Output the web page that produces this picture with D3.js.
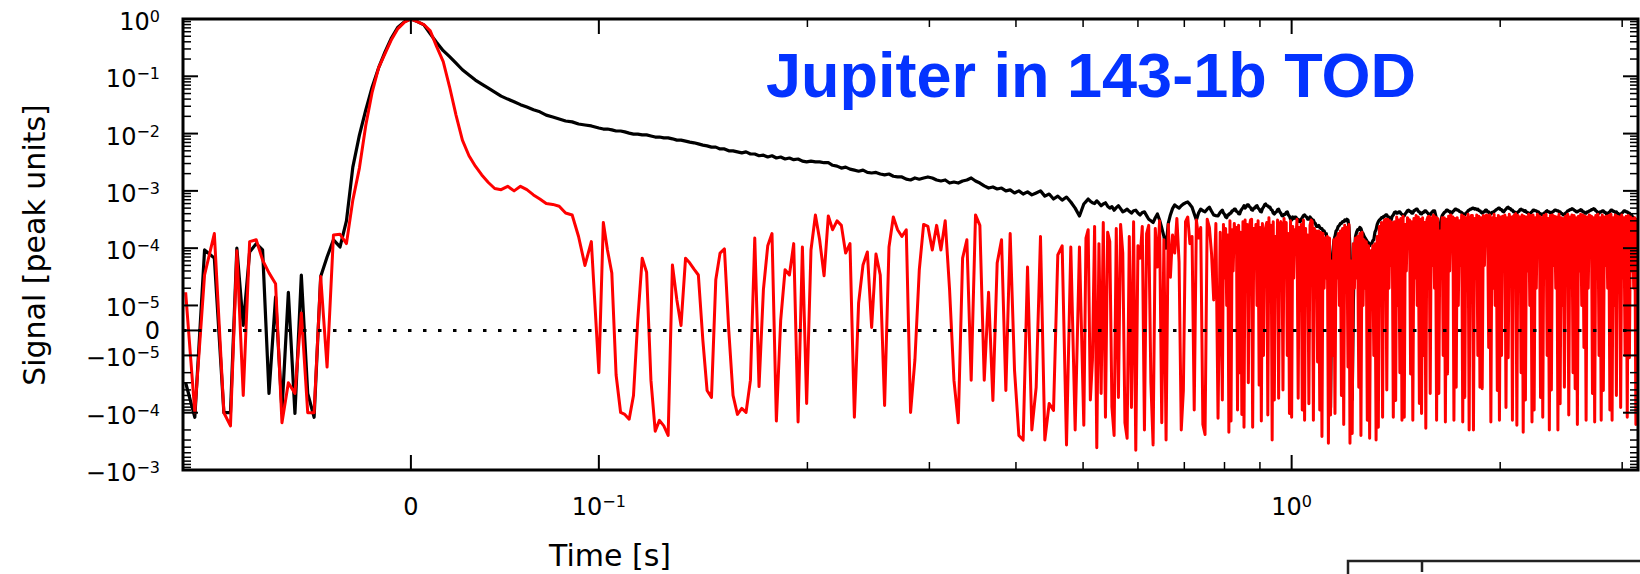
<!doctype html>
<html lang="en">
<head>
<meta charset="UTF-8">
<title>Jupiter in 143-1b TOD</title>
<style>
  html, body { margin: 0; padding: 0; background: #fff; }
  svg { display: block; }
  .tick-label { font-family: 'DejaVu Sans', sans-serif; font-size: 24px; fill: #000; }
  .axis-title { font-family: 'DejaVu Sans', sans-serif; font-size: 30px; fill: #000; }
  .title { font-family: 'Liberation Sans', Arial, sans-serif; font-weight: bold; font-size: 63px; fill: #0433ff; }
</style>
</head>
<body>
<svg width="1640" height="574"></svg>
<script src="https://cdn.jsdelivr.net/npm/d3@7"></script>
<script>
// sample times [ms]: uniform around the peak, log-spaced bins after 0.1 s (finer bins at late times)
const timeMs = [
  -113.2, -109.8, -106.3, -102.9, -99.5, -96.0, -92.6, -89.2, -85.8, -82.3,
  -78.9, -75.5, -72.0, -68.6, -65.2, -61.7, -58.3, -54.9, -51.5, -48.0,
  -44.6, -41.2, -37.7, -34.3, -30.9, -27.4, -24.0, -20.6, -17.2, -13.7,
  -10.3, -6.9, -3.4, 0, 3.4, 6.9, 10.3, 13.7, 17.2, 20.6,
  24.0, 27.4, 30.9, 34.3, 37.7, 41.2, 44.6, 48.0, 51.5, 54.9,
  58.3, 61.7, 65.2, 68.6, 72.0, 75.5, 78.9, 82.3, 85.8, 89.2,
  92.6, 96.0,
  100, 101.5, 102.9, 104.4, 105.9, 107.5, 109.0, 110.6, 112.2, 113.8, 115.5, 117.2, 118.9, 120.6, 122.3, 124.1,
  125.9, 127.7, 129.6, 131.4, 133.4, 135.3, 137.2, 139.2, 141.3, 143.3, 145.4, 147.5, 149.6, 151.8, 154.0, 156.2,
  158.5, 160.8, 163.1, 165.5, 167.9, 170.3, 172.8, 175.3, 177.8, 180.4, 183.0, 185.7, 188.4, 191.1, 193.9, 196.7,
  199.5, 202.4, 205.4, 208.3, 211.4, 214.4, 217.5, 220.7, 223.9, 227.1, 230.4, 233.8, 237.1, 240.6, 244.1, 247.6,
  251.2, 254.8, 258.5, 262.3, 266.1, 269.9, 273.8, 277.8, 281.8, 285.9, 290.1, 294.3, 298.5, 302.9, 307.3, 311.7,
  316.2, 320.8, 325.5, 330.2, 335.0, 339.8, 344.7, 349.7, 354.8, 360.0, 365.2, 370.5, 375.8, 381.3, 386.8, 392.4,
  398.1, 403.9, 409.7, 415.7, 421.7, 427.8, 434.0, 440.3, 446.7, 453.2, 459.7, 466.4, 473.2, 480.0, 487.0, 494.0,
  501.2, 504.8, 508.5, 512.2, 515.8, 519.5, 523.3, 527.1, 530.9, 534.7, 538.6, 542.5, 546.4, 550.3, 554.3, 558.3,
  562.3, 566.4, 570.5, 574.6, 578.8, 583.0, 587.2, 591.4, 595.7, 600.0, 604.3, 608.7, 613.1, 617.5, 621.9, 626.4,
  631.0, 635.6, 640.1, 644.7, 649.4, 654.1, 658.8, 663.6, 668.3, 673.1, 678.0, 682.9, 687.9, 692.9, 697.8, 702.8,
  708.0, 713.1, 718.2, 723.4, 728.6, 733.9, 739.2, 744.5, 749.9, 755.3, 760.8, 766.3, 771.8, 777.4, 783.0, 788.7,
  794.3, 797.2, 800.0, 803.0, 805.9, 808.8, 811.7, 814.6, 817.5, 820.5, 823.4, 826.4, 829.4, 832.4, 835.4, 838.4,
  841.4, 844.5, 847.5, 850.6, 853.6, 856.7, 859.8, 862.9, 866.0, 869.2, 872.3, 875.4, 878.5, 881.7, 884.8, 888.1,
  891.3, 894.5, 897.7, 901.0, 904.2, 907.5, 910.7, 914.0, 917.3, 920.6, 923.9, 927.3, 930.6, 934.0, 937.3, 940.7,
  944.1, 947.5, 950.9, 954.3, 957.7, 961.2, 964.6, 968.1, 971.6, 975.1, 978.6, 982.2, 985.7, 989.3, 992.8, 996.4,
  1000, 1003.5, 1007, 1010.5, 1014, 1018, 1022, 1025.5, 1029, 1032.5, 1036, 1040, 1044, 1047.5, 1051, 1055,
  1059, 1063, 1067, 1071, 1075, 1078.5, 1082, 1086, 1090, 1094, 1098, 1102, 1106, 1110, 1114, 1118,
  1122, 1126, 1130, 1134, 1138, 1142, 1146, 1150.5, 1155, 1159, 1163, 1167.5, 1172, 1176, 1180, 1184.5,
  1189, 1193, 1197, 1201.5, 1206, 1210, 1214, 1218.5, 1223, 1227.5, 1232, 1236.5, 1241, 1245.5, 1250, 1254.5,
  1259, 1263.5, 1268, 1272.5, 1277, 1281.5, 1286, 1291, 1296, 1300.5, 1305, 1309.5, 1314, 1319, 1324, 1329,
  1334, 1338.5, 1343, 1348, 1353, 1357.5, 1362, 1367, 1372, 1377, 1382, 1387, 1392, 1397, 1402, 1407.5,
  1413, 1418, 1423, 1428, 1433, 1438, 1443, 1448.5, 1454, 1459, 1464, 1469.5, 1475, 1480, 1485, 1490.5,
  1496, 1501.5, 1507, 1512.5, 1518, 1523.5, 1529, 1534.5, 1540, 1545.5, 1551, 1556.5, 1562, 1567.5, 1573, 1579,
  1585, 1590.5, 1596, 1602, 1608, 1613.5, 1619, 1625, 1631, 1637, 1643, 1649, 1655, 1661, 1667, 1673,
  1679, 1685, 1691, 1697, 1703, 1709, 1715, 1721.5, 1728, 1734, 1740, 1746.5, 1753, 1759.5, 1766, 1772,
  1778, 1784.5, 1791, 1797.5, 1804, 1810.5, 1817, 1823.5, 1830, 1836.5, 1843, 1850, 1857, 1863.5, 1870, 1877,
  1884, 1891, 1898, 1904.5, 1911, 1918, 1925, 1932, 1939, 1946, 1953, 1960, 1967, 1974, 1981, 1988,
  1995, 2002, 2009, 2016.5, 2024, 2031.5, 2039, 2046.5, 2054, 2061.5, 2069, 2076, 2083, 2090.5, 2098, 2106,
  2114, 2121.5, 2129, 2136.5, 2144, 2151.5, 2159, 2167, 2175, 2183, 2191, 2199, 2207, 2215, 2223, 2231,
  2239, 2247, 2255, 2263, 2271, 2279, 2287, 2295.5, 2304, 2312.5, 2321, 2329.5, 2338, 2346.5, 2355, 2363,
  2371, 2379.5, 2388, 2397, 2406, 2414.5, 2423, 2432, 2441, 2450, 2459, 2467.5, 2476, 2485, 2494, 2503,
  2512, 2521, 2530, 2539, 2548, 2557, 2566, 2575.5, 2585, 2594.5, 2604, 2613.5, 2623, 2632.5, 2642, 2651.5,
  2661, 2670.5, 2680, 2689.5, 2699, 2708.5, 2718, 2728, 2738, 2748, 2758, 2768, 2778, 2788, 2798, 2808,
  2818, 2828, 2838, 2848.5, 2859, 2869.5, 2880, 2890.5, 2901, 2911.5, 2922, 2932.5, 2943, 2953.5, 2964, 2974.5,
  2985, 2996, 3007, 3018, 3029, 3040, 3051, 3062, 3073, 3084, 3095, 3106, 3117, 3128.5, 3140, 3151,
  3162
];

// black: raw TOD [peak units]
const rawSignal = [
  -3e-5, -1.2e-4, 9.3e-5, 6.7e-5, -1e-4, -1e-4, 1e-4, 2e-6, 8.6e-5, 1.2e-4,
  9.3e-5, -4.6e-5, 1.4e-5, -9.1e-5, 1.7e-5, -1.03e-4, 3.4e-5, -4.6e-5, -1.2e-4, 3.2e-5,
  7e-5, 1.4e-4, 1.05e-4, 3e-4, 2.6e-3, 9.4e-3, 2.6e-2, 6.5e-2, 0.14, 0.27,
  0.47, 0.72, 0.9, 1, 0.9, 0.79, 0.55, 0.39, 0.28, 0.22,
  0.17, 0.13, 0.105, 0.086, 0.073, 0.062, 0.053, 0.045, 0.04, 0.036,
  0.032, 0.029, 0.026, 0.024, 0.021, 0.0195, 0.018, 0.0166, 0.016, 0.0147,
  0.0141, 0.0136,
  1.25e-2, 1.2e-2, 1.2e-2, 1.16e-2, 1.11e-2, 1.11e-2, 1.07e-2, 1.02e-2, 9.8e-3, 9.8e-3,
  9.5e-3, 9.5e-3, 9.1e-3, 8.7e-3, 8.7e-3, 8.4e-3, 8.4e-3, 8.1e-3, 7.7e-3, 7.7e-3,
  7.4e-3, 7.1e-3, 6.9e-3, 6.6e-3, 6.3e-3, 6.1e-3, 5.8e-3, 5.8e-3, 5.4e-3, 5.4e-3,
  5e-3, 5e-3, 4.8e-3, 4.6e-3, 4.8e-3, 4.4e-3, 4.4e-3, 4.1e-3, 4.2e-3, 3.9e-3,
  4.1e-3, 3.75e-3, 3.9e-3, 3.6e-3, 3.75e-3, 3.5e-3, 3.6e-3, 3.3e-3, 3.2e-3, 3.3e-3,
  3.2e-3, 3.2e-3, 3.1e-3, 3.1e-3, 2.8e-3, 2.7e-3, 2.5e-3, 2.6e-3, 2.4e-3, 2.3e-3,
  2.2e-3, 2.3e-3, 2.1e-3, 2.05e-3, 2.1e-3, 1.97e-3, 1.9e-3, 1.97e-3, 1.8e-3, 1.75e-3,
  1.75e-3, 1.6e-3, 1.55e-3, 1.68e-3, 1.6e-3, 1.68e-3, 1.75e-3, 1.68e-3, 1.55e-3, 1.49e-3,
  1.55e-3, 1.37e-3, 1.43e-3, 1.37e-3, 1.49e-3, 1.55e-3, 1.68e-3, 1.49e-3, 1.37e-3, 1.22e-3,
  1.12e-3, 1.17e-3, 1.08e-3, 1.12e-3, 1e-3, 1.04e-3, 9.2e-4, 1e-3, 8.8e-4, 9.6e-4,
  8.5e-4, 9.2e-4, 1e-3, 8.1e-4, 8.8e-4, 7.2e-4, 8.1e-4, 6.9e-4, 7.8e-4, 6.4e-4,
  5e-4, 3.65e-4,
  5.9e-4, 6.5e-4, 7.2e-4, 6.6e-4, 6.2e-4, 6e-4, 6.7e-4, 6.1e-4, 5.5e-4, 5.9e-4,
  6.2e-4, 5.4e-4, 5e-4, 5.3e-4, 4.6e-4, 5.1e-4, 5.5e-4, 4.9e-4, 4.3e-4, 4.5e-4,
  4.8e-4, 4.4e-4, 4.1e-4, 4.5e-4, 4.6e-4, 4.1e-4, 3.8e-4, 4.2e-4, 4.3e-4, 3.7e-4,
  3.2e-4, 3e-4, 2.8e-4, 3.4e-4, 3.95e-4, 3.1e-4, 2.25e-4, 1.6e-4, 1e-4, 2.7e-4,
  3.8e-4, 4.9e-4, 5.7e-4, 5.3e-4, 5e-4, 5.5e-4, 5.9e-4, 6.2e-4, 6.4e-4, 5.8e-4,
  5.2e-4, 4e-4, 3.1e-4, 4.1e-4, 4.8e-4, 4.5e-4, 4.3e-4, 4.8e-4, 5.2e-4, 4.4e-4,
  3.8e-4, 3.7e-4, 3.65e-4, 4.2e-4,
  4.6e-4, 4.1e-4, 3.9e-4, 3.5e-4, 3.4e-4, 3.8e-4, 3.8e-4, 4.1e-4,
  4.1e-4, 4.5e-4, 4.5e-4, 4.8e-4, 4.8e-4, 4.4e-4, 4.3e-4, 4e-4,
  3.95e-4, 4.5e-4, 4.8e-4, 5.1e-4, 5.5e-4, 5e-4, 5.3e-4, 5.7e-4,
  5.7e-4, 5.3e-4, 5.1e-4, 4.7e-4, 4.6e-4, 5e-4, 5e-4, 5.4e-4,
  5.5e-4, 5e-4, 4.8e-4, 4.4e-4, 4.3e-4, 4.9e-4, 5.2e-4, 5.7e-4,
  5.9e-4, 5.5e-4, 5.5e-4, 5.2e-4, 5.2e-4, 4.7e-4, 4.6e-4, 4.1e-4,
  3.95e-4, 4.2e-4, 4.3e-4, 4.7e-4, 4.8e-4, 4.3e-4, 4.1e-4, 3.7e-4,
  3.65e-4, 3.9e-4, 3.9e-4, 4.2e-4, 4.3e-4, 3.8e-4, 3.6e-4, 3.2e-4,
  3.1e-4, 3.5e-4, 3.3e-4, 3.5e-4, 3.5e-4, 3.2e-4, 3.2e-4, 2.9e-4,
  2.9e-4, 3.2e-4, 3.4e-4, 3.7e-4, 3.8e-4, 3.6e-4, 3.5e-4, 3.2e-4,
  3.2e-4, 3.5e-4, 3.3e-4, 3.1e-4, 3.1e-4, 2.8e-4, 2.7e-4, 2.4e-4,
  2.4e-4, 2.5e-4, 2.3e-4, 2.2e-4, 2.2e-4, 2e-4, 2e-4, 1.8e-4,
  1.8e-4, 1.3e-4, 5e-5, -3e-5, -8.1e-5, 1e-5, 8e-5, 1.3e-4,
  1.6e-4, 2e-4, 2.1e-4, 2.4e-4, 2.5e-4, 2.7e-4, 2.7e-4, 2.9e-4,
  2.9e-4, 3.1e-4, 3e-4, 3.2e-4, 3.1e-4, 2.3e-4, 1e-4, 2e-5,
  -5.9e-5, 1e-5, 9e-5, 1.6e-4, 1.9e-4, 2.1e-4, 2.1e-4, 2.3e-4,
  2.2e-4, 1.9e-4, 1.8e-4, 1.6e-4, 1.5e-4, 1.4e-4, 1.3e-4, 1.25e-4,
  1.1e-4, 1.2e-4, 1.2e-4, 1.35e-4, 1.4e-4, 1.9e-4, 2.1e-4, 2.6e-4,
  2.9e-4, 3.1e-4, 3.2e-4, 3.4e-4, 3.4e-4, 3.6e-4, 3.6e-4, 3.8e-4,
  3.8e-4, 3.5e-4, 3.5e-4, 3.2e-4, 3.1e-4, 3.6e-4, 3.8e-4, 4.2e-4,
  4.3e-4, 4.1e-4, 4.1e-4, 4.3e-4, 4.3e-4, 4e-4, 3.9e-4, 3.7e-4,
  3.65e-4, 4e-4, 4.2e-4, 4.5e-4, 4.6e-4, 4.4e-4, 4.4e-4, 4.1e-4,
  4.1e-4, 4.5e-4, 4.6e-4, 4.8e-4, 4.8e-4, 4.4e-4, 4.3e-4, 4e-4,
  3.95e-4, 4.2e-4, 4.2e-4, 4.5e-4, 4.5e-4, 4.2e-4, 4.1e-4, 3.8e-4,
  3.8e-4, 4.1e-4, 4.3e-4, 4.5e-4, 4.5e-4, 3.8e-4, 3.2e-4, 2.1e-4,
  1.4e-4, 2.4e-4, 3.1e-4, 3.7e-4, 3.95e-4, 4.2e-4, 4.3e-4, 4.6e-4,
  4.6e-4, 4.4e-4, 4.4e-4, 4.1e-4, 4.1e-4, 4.4e-4, 4.5e-4, 4.8e-4,
  4.8e-4, 4.6e-4, 4.6e-4, 4.4e-4, 4.3e-4, 4.2e-4, 4e-4, 3.8e-4,
  3.8e-4, 4.1e-4, 4.2e-4, 4.5e-4, 4.6e-4, 4.8e-4, 4.8e-4, 5e-4,
  5e-4, 4.8e-4, 4.9e-4, 4.7e-4, 4.8e-4, 4.5e-4, 4.5e-4, 4.2e-4,
  4.1e-4, 4.3e-4, 4.3e-4, 4.6e-4, 4.6e-4, 4.3e-4, 4.3e-4, 4e-4,
  3.95e-4, 4.2e-4, 4.2e-4, 4.4e-4, 4.5e-4, 4.7e-4, 4.8e-4, 5e-4,
  5e-4, 4.7e-4, 4.7e-4, 4.4e-4, 4.3e-4, 4.6e-4, 4.8e-4, 5.1e-4,
  5.2e-4, 4.9e-4, 4.9e-4, 4.6e-4, 4.6e-4, 4.3e-4, 4.3e-4, 4.1e-4,
  4.1e-4, 4.3e-4, 4.4e-4, 4.7e-4, 4.8e-4, 4.6e-4, 4.6e-4, 4.4e-4,
  4.5e-4, 4.2e-4, 4.2e-4, 3.9e-4, 3.95e-4, 4.2e-4, 4.3e-4, 4.6e-4,
  4.6e-4, 4.5e-4, 4.5e-4, 4.3e-4, 4.3e-4, 4e-4, 4e-4, 3.8e-4,
  3.8e-4, 4.1e-4, 4.1e-4, 4.4e-4, 4.5e-4, 4.3e-4, 4.3e-4, 4.1e-4,
  4.1e-4, 4.3e-4, 4.4e-4, 4.6e-4, 4.6e-4, 4.5e-4, 4.5e-4, 4.3e-4,
  4.3e-4, 4e-4, 4e-4, 3.8e-4, 3.8e-4, 4.1e-4, 4.2e-4, 4.5e-4,
  4.5e-4, 4.7e-4, 4.7e-4, 4.9e-4, 4.8e-4, 4.6e-4, 4.5e-4, 4.3e-4,
  4.3e-4, 4.5e-4, 4.5e-4, 4.7e-4, 4.6e-4, 4.3e-4, 4.3e-4, 4.1e-4,
  4.1e-4, 4.3e-4, 4.3e-4, 4.5e-4, 4.5e-4, 4.7e-4, 4.7e-4, 4.9e-4,
  4.8e-4, 4.5e-4, 4.4e-4, 4.1e-4, 4.1e-4, 4.3e-4, 4.3e-4, 4.5e-4,
  4.5e-4, 4.2e-4, 4.2e-4, 3.9e-4, 3.95e-4, 4.2e-4, 4.3e-4, 4.6e-4,
  4.6e-4, 4.4e-4, 4.4e-4, 4.2e-4, 4.3e-4, 4e-4, 4e-4, 3.8e-4,
  3.8e-4, 4.1e-4, 4.2e-4, 4.5e-4, 4.5e-4, 4.3e-4, 4.3e-4, 4.1e-4,
  4.1e-4, 3.8e-4, 3.8e-4, 3.5e-4, 3.4e-4, 3.1e-4, 3e-4, 2.9e-4,
  2.8e-4
];

// red: corrected TOD [peak units]
const correctedSignal = [
  1.7e-5, -1e-4, 3.4e-5, 1.8e-4, -1e-4, -1.7e-4, 9e-5, -5e-5, 1.3e-4, 1.4e-4,
  6.2e-5, 3.7e-5, 2.4e-5, -1.5e-4, -3e-5, -4.6e-5, 7e-6, -1e-4, -1e-4, 3.2e-5,
  -1.6e-5, 1.7e-4, 1.75e-4, 1.2e-4, 6.9e-4, 2.5e-3, 1.4e-2, 5.3e-2, 0.14, 0.25,
  0.44, 0.68, 0.88, 1, 0.9, 0.8, 0.62, 0.33, 0.18, 0.065,
  0.021, 7.7e-3, 4.1e-3, 2.7e-3, 1.9e-3, 1.4e-3, 1.1e-3, 1.05e-3, 1.2e-3, 1e-3,
  1.2e-3, 1.05e-3, 8.5e-4, 7.2e-4, 6e-4, 5.8e-4, 5.4e-4, 4.1e-4, 3.8e-4, 1.6e-4,
  5e-5, 1.3e-4,
  -2e-5, 2.8e-4, 9.3e-5, 3.7e-5, -2.2e-5, -9.9e-5, -1.07e-4, -1.3e-4, -5e-5, 4e-6,
  6.7e-5, 3.8e-5, -2.7e-5, -2.1e-4, -1.36e-4, -1.7e-4, -2.5e-4, 5.1e-5, 1.25e-5, 2e-6,
  6.7e-5, 5.5e-5, 4.3e-5, 3.4e-5, -4e-6, -4.1e-5, -5.4e-5, 2.8e-5, 8.2e-5, 9.7e-5,
  0, -5e-5, -1.07e-4, -8.4e-5, -9.9e-5, -2.7e-5, 1.5e-4, -3.5e-5, 1.9e-5, 1.1e-4,
  1.8e-4, -1.4e-4, 4e-6, 4.2e-5, 3.4e-5, 1.2e-4, -1.45e-4, 1.05e-4, -6.9e-5, 9.3e-5,
  3.8e-4, 1.4e-4, 3.3e-5, 3.65e-4, 2.1e-4, 3e-4, 2.5e-4, 8.2e-5, 1.2e-4, -1.2e-4,
  1.1e-5, 5.1e-5, 8.6e-5, 1.2e-6, 7.9e-5, 3.4e-5, -7.5e-5, 1.05e-4, 3.5e-4, 2.1e-4,
  1.6e-4, 2.1e-4, -9.9e-5, -1.2e-5, 4.2e-5, 2.6e-4, 2.4e-4, 9.3e-5, 2.5e-4, 9.3e-5,
  3e-4, 1.9e-5, -2.7e-5, -1.5e-4, 6.7e-5, 1.4e-4, -2.7e-5, 3.8e-4, 2.5e-4, -2.7e-5,
  1.7e-5, -6.1e-5, 5.5e-5, 1.4e-4, -4.1e-5, 1.8e-4, -1.8e-5, -2.5e-4, -3e-4, 4.7e-5,
  -2e-4, -3.6e-5, 1.6e-4, -3e-4, -6.9e-5, -9.1e-5, 7.6e-5, 1.1e-4, -3.65e-4, 1.05e-4,
  -2e-4, 1.05e-4,
  -1.66e-4, 1.5e-4, 2.1e-4, -6e-5, -1.2e-5, 2.4e-4, -4.1e-4, 1.2e-4, -4.6e-5, 2.8e-4,
  -1.2e-4, 1.9e-4, 1.3e-4, -8e-5, -2.5e-4, 2.2e-4, -5.4e-5, 2.6e-4, 8.2e-5, -1.5e-4,
  -2.8e-4, 1.6e-4, -8.1e-5, 2.9e-4, -4.5e-4, 1.1e-4, 6.7e-5, 2.4e-4, -2e-4, 1.8e-4,
  2.5e-4, -3e-5, -3.65e-4, 2.2e-4, 4.7e-5, 3e-4, -1.5e-4, 1.4e-4, -3e-4, 2.6e-4,
  3.1e-5, 1.7e-4, 8.2e-5, 3.3e-4, 5.7e-5, -2e-4, -4.1e-5, 2.9e-4, 3.5e-4, 1.2e-4,
  1.6e-4, -9e-5, 3.1e-4, 1.5e-4, 2.3e-4, -1.6e-4, -2.4e-4, 3.2e-4, 2.3e-4, 8e-5,
  1.25e-5, 2.7e-4, -1.25e-4, 1.9e-4,
  -6e-5, 2.6e-4, 3e-5, 2.2e-4, 1e-5, 1.7e-4, -2.2e-4, 3e-4,
  -1.4e-4, 2.1e-4, 4e-5, 2.7e-4, 1.4e-4, 2.3e-4, -9e-5, 2.5e-4,
  -2e-5, 1.9e-4, -1.07e-4, 2.9e-4, -1.8e-4, 3.1e-4, 2e-5, 2.6e-4,
  -3e-5, 2.4e-4, 3.1e-4, 3.2e-4, -1.8e-4, 2.2e-4, 6e-5, 2.6e-4,
  1e-5, 3e-4, -3.3e-5, 2.3e-4, -1.4e-4, 2.7e-4, -1e-5, 1.9e-4,
  2.3e-4, 2.8e-4, -1.1e-4, 3.4e-4, 4e-5, 2.5e-4, -3e-4, 2.9e-4,
  -6e-5, 1.6e-4, 2e-5, 3.1e-4, -5.6e-5, 2.6e-4, 2.9e-4, 2.4e-4,
  -4e-5, 3.3e-4, 5e-5, 2.8e-4, -1e-5, 1.8e-4, -1.03e-4, 3e-4,
  -1.2e-4, 2.4e-4, 3e-5, 2.1e-4, 1.4e-4, 3.2e-4, -5.6e-5, 2.3e-4,
  8e-6, 2.6e-4, -9e-5, 3.1e-4, -1.36e-4, 2.2e-4, 1e-5, 1.7e-4,
  -7e-5, 2.5e-4, 3.1e-4, 2.9e-4, -1.36e-4, 2.2e-4, 4e-5, 2e-4,
  -1.3e-5, 2e-4, -9e-5, 1.9e-4, -2.6e-4, 1.8e-4, 2e-5, 1.5e-4,
  3e-5, 1.6e-4, -3.4e-4, 1.5e-4, -1.1e-4, 6e-5, -1e-5, 1.4e-4,
  -1.03e-4, 1.5e-4, 3e-5, 1.8e-4, 1e-5, 2e-4, -5e-5, 2.2e-4,
  -1.6e-4, 2.5e-4, 4e-5, 2.3e-4, -1.6e-5, 2.6e-4, -3.4e-4, 6e-5,
  -2.3e-4, 1.2e-4, 2e-5, 1.5e-4, 3e-5, 1.6e-4, -3.6e-5, 1.8e-4,
  -2.5e-4, 1.9e-4, 1e-5, 1.4e-4, 2e-5, 1.3e-4, -1.36e-4, 1.1e-4,
  -2.8e-4, 9e-5, 3e-5, 1.1e-4, -1e-5, 1.2e-4, -3e-4, 1.6e-4,
  -1.8e-4, 2.4e-4, 4e-5, 2.8e-4, -1.2e-4, 2.7e-4, 3.1e-4, 3.2e-4,
  -4e-5, 3.2e-4, 2e-5, 3e-4, 5e-5, 2.8e-4, -1.2e-4, 2.9e-4,
  -6.1e-5, 3.5e-4, 1e-5, 3.1e-4, -2e-5, 3.3e-4, -1.36e-4, 3.6e-4,
  -1.2e-4, 2.6e-4, 4e-5, 3.4e-4, 3.1e-4, 3.1e-4, -2.1e-5, 2.9e-4,
  -1.36e-4, 3.3e-4, 3e-5, 3.7e-4, 1e-5, 3.5e-4, -6.9e-5, 3.2e-4,
  -1.03e-4, 3.4e-4, -1e-5, 2.8e-4, -1.87e-4, 3.1e-4, 3.5e-4, 3.6e-4,
  -4.6e-5, 3.4e-4, 5e-5, 3.8e-4, 2e-5, 3.5e-4, -1.36e-4, 3.3e-4,
  -4.6e-5, 2e-4, 3e-5, 3.4e-4, -1e-5, 3.4e-4, -1.45e-4, 3.2e-4,
  -2.1e-5, 3.6e-4, 4e-5, 3.8e-4, 3.1e-4, 3.5e-4, -1.36e-4, 3.3e-4,
  -3.6e-5, 3.4e-4, 1e-5, 3e-4, 5e-5, 3.8e-4, -1.45e-4, 3.6e-4,
  -5.4e-5, 3.4e-4, 2e-5, 3.9e-4, -2e-4, 3.2e-4, 3.7e-4, 3.7e-4,
  -2e-4, 3.3e-4, 3e-5, 3.8e-4, -1e-5, 3.6e-4, -3.6e-5, 3.4e-4,
  -3.8e-5, 3.7e-4, 5e-5, 3.5e-4, 3.8e-4, 3.6e-4, -6.8e-6, 3.8e-4,
  -1.45e-4, 3.4e-4, 2e-5, 3.9e-4, 1e-5, 3.3e-4, -4.1e-5, 3.7e-4,
  -1.36e-4, 3.5e-4, -1e-5, 3.6e-4, 4e-5, 3.8e-4, -8.1e-5, 3.4e-4,
  -1.1e-5, 3.9e-4, 3e-5, 3.5e-4, -1.36e-4, 3.6e-4, 3.8e-4, 4e-4,
  -1.66e-4, 3.7e-4, 2e-5, 3.5e-4, -2e-5, 3.8e-4, -2.2e-4, 3.6e-4,
  -6e-5, 3.5e-4, 4e-5, 3.9e-4, 1e-5, 3.7e-4, -1.45e-4, 3.8e-4,
  -9e-5, 3.4e-4, 2e-5, 3.9e-4, 3.6e-4, 3.6e-4, -5.4e-5, 3.4e-4,
  -1.2e-4, 3.7e-4, 3e-5, 3.9e-4, -1e-5, 3.3e-4, -2e-4, 3.7e-4,
  -4e-5, 3.8e-4, 5e-5, 3.6e-4, 2e-5, 3.5e-4, -2e-4, 3.9e-4,
  -7e-5, 3.4e-4, 1e-5, 3.3e-4, -3.6e-5, 3.6e-4, 2.6e-4, 3.9e-4,
  -1.1e-4, 3.5e-4, 3e-5, 3.8e-4, -2e-5, 3.7e-4, -3.8e-5, 3.4e-4,
  -1.6e-4, 3.6e-4, 4e-5, 3.9e-4, 1e-5, 3.8e-4, -6.8e-6, 3.6e-4,
  -1.36e-4, 3.5e-4, 2e-5, 3.8e-4, 3.6e-4, 3.6e-4, -4.6e-5, 3.4e-4,
  -1.45e-4, 3.7e-4, 3e-5, 3.9e-4, -1e-5, 3.4e-4, -1.36e-4, 3.8e-4,
  -4.1e-5, 3.5e-4, 5e-5, 3.6e-4, 2e-5, 3.7e-4, -9e-5, 3.9e-4,
  -1.36e-4, 3.4e-4, 1e-5, 3.8e-4, -5e-5, 3.6e-4, 3.5e-4, 3.5e-4,
  -8.1e-5, 3.8e-4, 3e-5, 3.4e-4, -1e-5, 3.6e-4, -1.2e-4, 3.7e-4,
  -1.1e-5, 3.5e-4, 4e-5, 3.3e-4, 2e-5, 3.4e-4, -1.6e-4, 3.2e-4,
  -5.2e-6
];

const yMajorTicks = [1, 1e-1, 1e-2, 1e-3, 1e-4, 1e-5, 0, -1e-5, -1e-4, -1e-3];
const yTickLabels = ['10^0', '10^\u22121', '10^\u22122', '10^\u22123', '10^\u22124', '10^\u22125', '0',
  '\u221210^\u22125', '\u221210^\u22124', '\u221210^\u22123'];
const xMajorTicks = [0, 0.1, 1];
const xTickLabels = ['0', '10^\u22121', '10^0'];
const xMinorTicks = [0.2, 0.3, 0.4, 0.5, 0.6, 0.7, 0.8, 0.9, 2, 3];
const yMinorDecades = [1e-5, 1e-4, 1e-3, 1e-2, 1e-1, -1e-5, -1e-4];

const titleText = 'Jupiter in 143-1b TOD';
const xTitle = 'Time [s]';
const yTitle = 'Signal [peak units]';

// matplotlib-like symlog: linear inside +-linthresh, one unit per decade outside
const symlog = (linthresh, linDecades) => v => {
  const a = Math.abs(v);
  if (a <= linthresh) return v / linthresh * linDecades;
  return Math.sign(v) * (linDecades + Math.log10(a / linthresh));
};

const plot = { left: 183, right: 1638, top: 19, bottom: 470 };
const tx = symlog(0.1, 0.2713);
const ty = symlog(1e-5, 0.436);
const xLin = d3.scaleLinear().domain([tx(-0.1142), tx(3.162)]).range([plot.left, plot.right]);
const yLin = d3.scaleLinear().domain([ty(-1e-3), ty(1)]).range([plot.bottom, plot.top]);
const x = t => xLin(tx(t));
const y = v => yLin(ty(v));

const svg = d3.select('svg');

svg.append('clipPath').attr('id', 'plot-area')
  .append('rect')
  .attr('x', plot.left).attr('y', plot.top)
  .attr('width', plot.right - plot.left).attr('height', plot.bottom - plot.top);

const line = d3.line()
  .x((d, i) => x(timeMs[i] / 1000))
  .y(d => y(d));

const lines = svg.append('g').attr('clip-path', 'url(#plot-area)');
lines.append('path')
  .attr('d', line(rawSignal))
  .attr('fill', 'none').attr('stroke', '#000').attr('stroke-width', 3.2)
  .attr('stroke-linejoin', 'round');
lines.append('path')
  .attr('d', line(correctedSignal))
  .attr('fill', 'none').attr('stroke', '#ff0000').attr('stroke-width', 3)
  .attr('stroke-linejoin', 'round');
lines.append('line')
  .attr('x1', plot.left).attr('x2', plot.right)
  .attr('y1', y(0)).attr('y2', y(0))
  .attr('stroke', '#000').attr('stroke-width', 3)
  .attr('stroke-dasharray', '3.5,11.5');

// frame + ticks (inward, all four sides)
const axes = svg.append('g').attr('stroke', '#000');
const majorLen = 15, minorLen = 8;

yMajorTicks.forEach(v => {
  const yy = y(v);
  axes.append('line').attr('x1', plot.left).attr('x2', plot.left + majorLen).attr('y1', yy).attr('y2', yy).attr('stroke-width', 2);
  axes.append('line').attr('x1', plot.right).attr('x2', plot.right - majorLen).attr('y1', yy).attr('y2', yy).attr('stroke-width', 2);
});
yMinorDecades.forEach(d => {
  [2, 3, 4, 5, 6, 7, 8, 9].forEach(m => {
    const yy = y(d * m);
    axes.append('line').attr('x1', plot.left).attr('x2', plot.left + minorLen).attr('y1', yy).attr('y2', yy).attr('stroke-width', 1.5);
    axes.append('line').attr('x1', plot.right).attr('x2', plot.right - minorLen).attr('y1', yy).attr('y2', yy).attr('stroke-width', 1.5);
  });
});
xMajorTicks.forEach(t => {
  const xx = x(t);
  axes.append('line').attr('x1', xx).attr('x2', xx).attr('y1', plot.bottom).attr('y2', plot.bottom - majorLen).attr('stroke-width', 2);
  axes.append('line').attr('x1', xx).attr('x2', xx).attr('y1', plot.top).attr('y2', plot.top + majorLen).attr('stroke-width', 2);
});
xMinorTicks.forEach(t => {
  const xx = x(t);
  axes.append('line').attr('x1', xx).attr('x2', xx).attr('y1', plot.bottom).attr('y2', plot.bottom - minorLen).attr('stroke-width', 1.5);
  axes.append('line').attr('x1', xx).attr('x2', xx).attr('y1', plot.top).attr('y2', plot.top + minorLen).attr('stroke-width', 1.5);
});

axes.append('rect')
  .attr('x', plot.left).attr('y', plot.top)
  .attr('width', plot.right - plot.left).attr('height', plot.bottom - plot.top)
  .attr('fill', 'none').attr('stroke-width', 3);

// labels with superscript exponents
const addLabel = (text, px, py, anchor) => {
  const [base, sup] = text.split('^');
  const t = svg.append('text').attr('class', 'tick-label')
    .attr('x', px).attr('y', py).attr('text-anchor', anchor);
  t.append('tspan').text(base);
  if (sup) t.append('tspan').attr('dy', -8).attr('font-size', 16).text(sup);
};

yMajorTicks.forEach((v, i) => addLabel(yTickLabels[i], 160, y(v) + (v === 0 ? 9 : 11), 'end'));
xMajorTicks.forEach((t, i) => addLabel(xTickLabels[i], x(t), 515, 'middle'));

svg.append('text').attr('class', 'axis-title')
  .attr('x', 610).attr('y', 566).attr('text-anchor', 'middle')
  .text(xTitle);
svg.append('text').attr('class', 'axis-title')
  .attr('transform', 'translate(45,245) rotate(-90)')
  .attr('text-anchor', 'middle')
  .text(yTitle);

svg.append('text').attr('class', 'title')
  .attr('x', 766).attr('y', 97)
  .text(titleText);

// corner of the neighbouring panel, cut off by the crop
svg.append('path')
  .attr('d', 'M1348,574V561H1640M1422,561V572')
  .attr('fill', 'none').attr('stroke', '#222').attr('stroke-width', 2.5);
</script>
</body>
</html>
